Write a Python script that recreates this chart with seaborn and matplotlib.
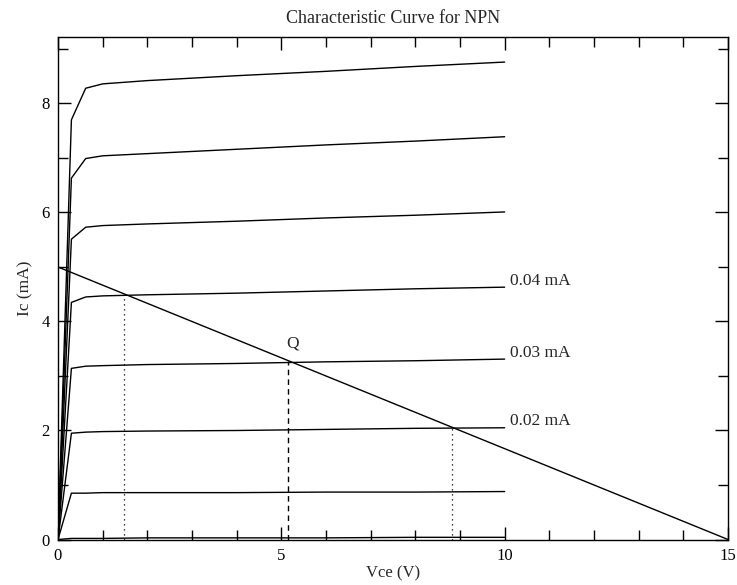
import matplotlib
matplotlib.use("Agg")
import matplotlib.pyplot as plt
from matplotlib.ticker import MultipleLocator
import seaborn as sns
import pandas as pd

# ---- data ----
vce = [0, 0.3, 0.62, 1.0, 2.0, 4.0, 6.0, 8.0, 10.0]
ic_curves = {
    "c1": [0, 7.70, 8.28, 8.36, 8.42, 8.51, 8.59, 8.68, 8.76],
    "c2": [0, 6.63, 6.99, 7.04, 7.08, 7.16, 7.24, 7.31, 7.39],
    "c3": [0, 5.51, 5.73, 5.76, 5.79, 5.84, 5.90, 5.95, 6.01],
    "c4": [0, 4.35, 4.45, 4.47, 4.49, 4.52, 4.56, 4.60, 4.63],
    "c5": [0, 3.14, 3.18, 3.19, 3.21, 3.23, 3.26, 3.28, 3.31],
    "c6": [0, 1.95, 1.97, 1.98, 1.99, 2.00, 2.02, 2.04, 2.05],
    "c7": [0, 0.85, 0.85, 0.86, 0.86, 0.86, 0.87, 0.87, 0.88],
    "c8": [0, 0.02, 0.02, 0.02, 0.03, 0.03, 0.03, 0.04, 0.04],
}
load_v = [0, 15]
load_i = [5, 0]
q_v, q_i = 5.16, 3.27
left_v, left_i = 1.47, 4.50
right_v, right_i = 8.81, 2.06
curve_labels = ["0.04 mA", "0.03 mA", "0.02 mA"]
label_y = [4.74, 3.42, 2.17]

rows = []
for name, vals in ic_curves.items():
    for v, i in zip(vce, vals):
        rows.append({"Vce": v, "Ic": i, "curve": name})
df = pd.DataFrame(rows)
load_df = pd.DataFrame({"Vce": load_v, "Ic": load_i})

sns.set_style("ticks")
plt.rcParams["font.family"] = ["Liberation Serif", "DejaVu Serif"]
plt.rcParams["mathtext.fontset"] = "stix"

fig = plt.figure(figsize=(7.37, 5.85), dpi=100)
ax = fig.add_axes([58 / 737, 45.5 / 585, 670 / 737, 502.5 / 585])

sns.lineplot(data=df, x="Vce", y="Ic", hue="curve",
             palette=["black"] * len(ic_curves), linewidth=1.0,
             legend=False, ax=ax, estimator=None, sort=False)
sns.lineplot(data=load_df, x="Vce", y="Ic", color="black", linewidth=1.0,
             ax=ax, estimator=None, sort=False)

ax.plot([left_v, left_v], [0, left_i], color="black", linestyle=(0, (1, 3)), linewidth=0.9)
ax.plot([right_v, right_v], [0, right_i], color="black", linestyle=(0, (1, 3)), linewidth=0.9)
ax.plot([q_v, q_v], [0, q_i], color="black", linestyle=(0, (4, 3)), linewidth=1.0)

ax.text(q_v + 0.1, q_i + 0.33, "Q", fontsize=12.5, ha="center", va="center")
for txt, yv in zip(curve_labels, label_y):
    ax.text(10.12, yv, txt, fontsize=12.5, ha="left", va="center")

ax.set_xlim(0, 15)
ax.set_ylim(0, 9.22)
ax.xaxis.set_major_locator(MultipleLocator(5))
ax.xaxis.set_minor_locator(MultipleLocator(1))
ax.yaxis.set_major_locator(MultipleLocator(2))
ax.yaxis.set_minor_locator(MultipleLocator(1))
ax.tick_params(which="both", direction="in", top=True, right=True,
               labelsize=12, width=1.0, colors="black")
ax.tick_params(which="major", length=9.5, pad=6)
ax.tick_params(which="minor", length=7)
for s in ax.spines.values():
    s.set_linewidth(1.0)
    s.set_color("black")

ax.set_xlabel("Vce (V)", fontsize=12, labelpad=1)
ax.set_ylabel("Ic (mA)", fontsize=12.5, labelpad=6)
ax.set_title("Characteristic Curve for NPN", fontsize=13, pad=10)

fig.savefig("out.png", dpi=100)
